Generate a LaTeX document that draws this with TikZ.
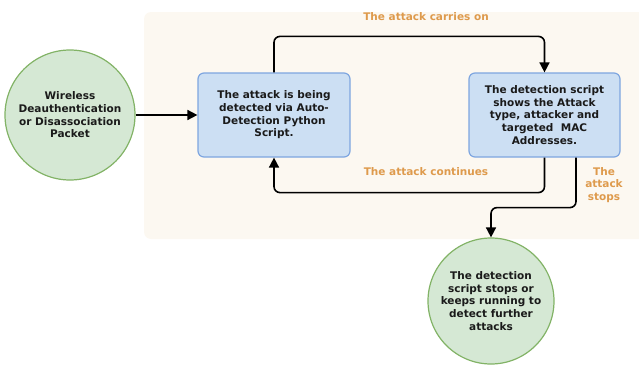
\documentclass[tikz,border=0pt]{standalone}
\usepackage{fontspec}
\setmainfont{DejaVu Sans}
\usetikzlibrary{arrows.meta,positioning}
\definecolor{panel}{HTML}{FCF8F1}
\definecolor{greenfill}{HTML}{D5E8D4}
\definecolor{greenline}{HTML}{82B366}
\definecolor{bluefill}{HTML}{CCDFF3}
\definecolor{blueline}{HTML}{7EA6E0}
\definecolor{labelorange}{HTML}{DE9A4C}
\definecolor{inktext}{HTML}{1A1A1A}
\tikzset{
  every node/.style={font=\bfseries\fontsize{10.5}{12.7}\selectfont, text=inktext, align=center},
  roundnode/.style={circle, draw=greenline, fill=greenfill, line width=1.2pt, inner sep=0pt},
  stepbox/.style={rectangle, rounded corners=6pt, draw=blueline, fill=bluefill, line width=1.2pt,
    minimum width=152pt, minimum height=84pt, inner sep=0pt},
  flow/.style={draw=black, line width=1.6pt, rounded corners=6pt,
    -{Triangle[length=10pt,width=10pt]}},
  note/.style={text=labelorange}
}
\begin{document}
\begin{tikzpicture}[x=1pt,y=-1pt]
  \useasboundingbox (0,0) rectangle (639,364);
  \clip (0,0) rectangle (639,364);
  % shaded panel behind the detection loop
  \fill[panel, rounded corners=7pt] (144,12) rectangle (660,239);

  \node[roundnode, minimum size=130pt] (src) at (70,115)
    {Wireless\\Deauthentication\\or Disassociation\\Packet};
  \node[stepbox] (det) at (274,115)
    {The attack is being\\detected via Auto-\\Detection Python\\Script.};
  \node[stepbox, minimum width=151pt] (show) at (544.5,115)
    {The detection script\\shows the Attack\\type, attacker and\\targeted\ \ MAC\\Addresses.};
  \node[roundnode, minimum size=126pt] (end) at (491,301)
    {The detection\\script stops or\\keeps running to\\detect further\\attacks};

  % connectors
  \draw[flow] (src) -- (det);
  \draw[flow] (det.north) -- ++(0,-36) -| (show.north);
  \draw[flow] (show.south) -- ++(0,35) -| (det.south);
  \coordinate (stopstart) at ([xshift=31.5pt]show.south);
  \draw[flow] (stopstart) -- ++(0,50) -| (end.north);

  % branch labels
  \node[note] (carries) at (426,17) {The attack carries on};
  \node[note] (continues) at (426,172) {The attack continues};
  \node[note] (stops) at (604,185) {The\\attack\\stops};
\end{tikzpicture}
\end{document}
